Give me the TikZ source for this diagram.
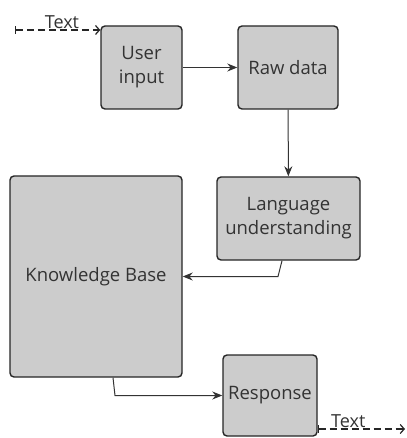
\documentclass[tikz,border=0pt]{standalone}
\usepackage{fontspec}
\setmainfont{Open Sans}
\usetikzlibrary{positioning,arrows.meta,calc}
\definecolor{boxgray}{HTML}{CCCCCC}
\definecolor{inkgray}{HTML}{333333}
\tikzset{
  box/.style={draw=black!85,line width=1.4pt,fill=boxgray,rounded corners=4pt,
    text=inkgray,align=center,font=\fontsize{18.5}{24}\selectfont,inner sep=0pt},
  flow/.style={draw=black!80,line width=1pt,-{Stealth[length=10pt,width=8pt]}},
  dashflow/.style={draw=black!85,line width=1.2pt,dash pattern=on 7pt off 4pt,
    {Bar[width=8pt]}-{Straight Barb[length=4pt,width=9pt]}},
  lbl/.style={text=inkgray,font=\fontsize{18}{20}\selectfont,inner sep=1pt}
}
\begin{document}
\begin{tikzpicture}[x=1pt,y=-1pt]
  \useasboundingbox (0,0) rectangle (406,438);
  \node[box,minimum width=81,minimum height=83] (user) at (141.5,67.5) {User\\input};
  \node[box,minimum width=100,minimum height=83] (raw) at (288,67.5) {Raw data};
  \node[box,minimum width=143,minimum height=83] (lang) at (288.5,218.5) {Language\\understanding};
  \node[box,minimum width=172,minimum height=201] (kb) at (96,276.5) {Knowledge Base};
  \node[box,minimum width=94,minimum height=81] (resp) at (270,395.5) {Response};
  \coordinate (in) at (15,30);
  \coordinate (out) at (405,429);
  \coordinate (k1) at (278,276.5);
  \coordinate (k2) at (115,395.5);
  \draw[dashflow] (in) -- (in -| user.west) node[lbl,pos=0.55,above]{Text};
  \draw[flow] (user) -- (raw);
  \draw[flow] (raw) -- (lang);
  \draw[flow] ([xshift=-6.5]lang.south) -- (k1) -- (kb.east);
  \draw[flow] ([xshift=17]kb.south) -- (k2) -- (resp.west);
  \draw[dashflow] (out -| resp.east) -- (out) node[lbl,pos=0.35,above]{Text};
\end{tikzpicture}
\end{document}
